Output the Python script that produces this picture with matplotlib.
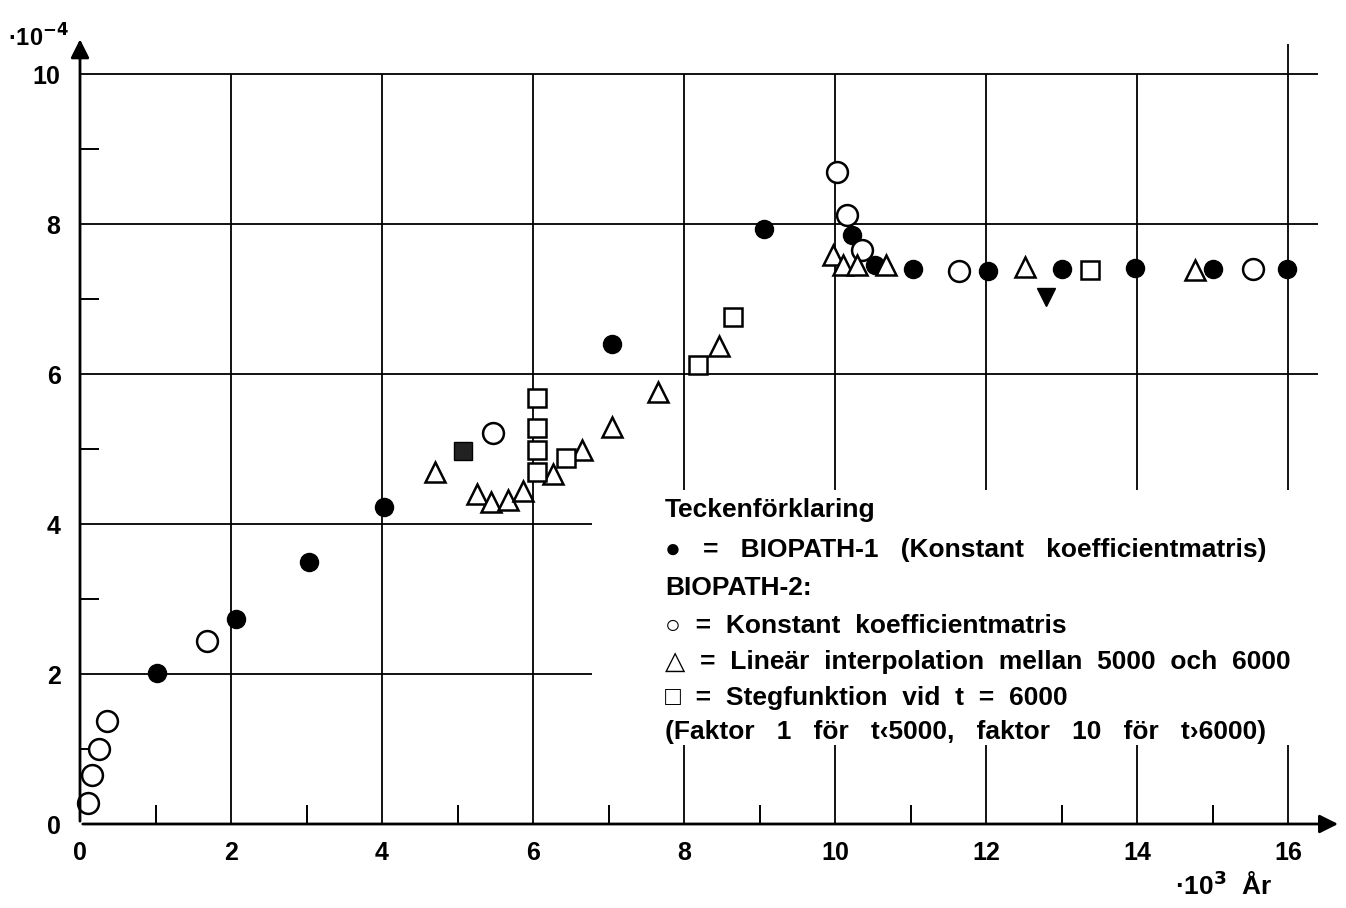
import matplotlib
matplotlib.use("Agg")
import matplotlib.pyplot as plt

# ---- data (x in 10^3 years, y in 10^-4) ----
b1_x = [1.02, 2.07, 3.03, 4.03, 7.05, 9.06, 10.23, 10.53, 11.03, 12.03, 13.01, 13.97, 15.01, 15.99]
b1_y = [2.01, 2.73, 3.49, 4.23, 6.40, 7.93, 7.85, 7.45, 7.40, 7.37, 7.40, 7.41, 7.40, 7.40]

konst_x = [0.11, 0.16, 0.25, 0.36, 1.68, 5.47, 10.03, 10.16, 10.36, 11.64, 15.54]
konst_y = [0.28, 0.65, 1.00, 1.37, 2.44, 5.21, 8.69, 8.12, 7.65, 7.37, 7.40]

lin_x = [4.70, 5.26, 5.44, 5.67, 5.87, 6.26, 6.65, 7.05, 7.66, 8.46, 9.97, 10.11, 10.29, 10.68, 12.52, 14.77]
lin_y = [4.69, 4.40, 4.29, 4.32, 4.44, 4.67, 4.99, 5.29, 5.76, 6.37, 7.59, 7.45, 7.45, 7.45, 7.43, 7.39]

steg_x = [6.05, 6.05, 6.05, 6.05, 6.44, 8.19, 8.65, 13.38]
steg_y = [5.68, 5.28, 4.99, 4.69, 4.88, 6.12, 6.76, 7.39]

fsq_x = [5.07]
fsq_y = [4.97]
dtri_x = [12.79]
dtri_y = [7.03]

xticks = [0, 2, 4, 6, 8, 10, 12, 14, 16]
yticks = [0, 2, 4, 6, 8, 10]

legend_lines = [
    "Teckenförklaring",
    "●   =   BIOPATH-1   (Konstant   koefficientmatris)",
    "BIOPATH-2:",
    "○  =  Konstant  koefficientmatris",
    "△  =  Lineär  interpolation  mellan  5000  och  6000",
    "□  =  Stegfunktion  vid  t  =  6000",
    "(Faktor   1   för   t‹5000,   faktor   10   för   t›6000)",
]

W, H = 1346, 908
fig = plt.figure(figsize=(W / 100, H / 100), dpi=100)
x0px, y0px = 80, 824
ppx, ppy = 75.5, 75.0
xmax, ymax = 16.7, 10.5
ax = fig.add_axes([x0px / W, (H - y0px) / H, xmax * ppx / W, ymax * ppy / H])
ax.set_xlim(0, xmax)
ax.set_ylim(0, ymax)
for s in ax.spines.values():
    s.set_visible(False)

lw = 1.3
# horizontal grid lines
ax.hlines([6, 8, 10], 0, 16.4, color="black", lw=lw)
ax.hlines([2, 4], 0, 6.78, color="black", lw=lw)
# vertical grid lines
ax.vlines([2, 4, 6], 0, 10, color="black", lw=lw)
for xv in [8, 10, 12, 14, 16]:
    ax.vlines(xv, 4.45, 10.4 if xv == 16 else 10, color="black", lw=lw)
    ax.vlines(xv, 0, 1.05, color="black", lw=lw)

# axes with arrows
ax.annotate("", xy=(xmax, 0), xytext=(0, 0),
            arrowprops=dict(arrowstyle="-|>", color="black", lw=2.0, mutation_scale=28),
            annotation_clip=False)
ax.annotate("", xy=(0, ymax), xytext=(0, 0),
            arrowprops=dict(arrowstyle="-|>", color="black", lw=2.0, mutation_scale=28),
            annotation_clip=False)

tick_font = dict(family=["Liberation Sans", "DejaVu Sans"], size=18, weight="bold")
ax.set_xticks(xticks)
ax.set_xticklabels([str(v) for v in xticks], **tick_font)
ax.set_yticks(yticks)
ax.set_yticklabels([str(v) for v in yticks], **tick_font)
ax.tick_params(axis="both", which="major", length=0)
ax.tick_params(axis="x", which="major", pad=12)
ax.tick_params(axis="y", which="major", pad=14)
ax.set_xticks(list(range(1, 16, 2)), minor=True)
ax.set_yticks([1, 3, 5, 7, 9], minor=True)
ax.tick_params(axis="both", which="minor", direction="in", length=14, width=1.4, color="black")

# units
fig.text(8 / W, 1 - 38 / H, "·10$^{\\mathbf{-4}}$", fontsize=17, fontweight="bold",
         family=["Liberation Sans", "DejaVu Sans"], va="center", ha="left")
fig.text(1175 / W, 1 - 886 / H, "·10$^{\\mathbf{3}}$  År", fontsize=19, fontweight="bold",
         family=["Liberation Sans", "DejaVu Sans"], va="center", ha="left")

ms = 14
ax.plot(b1_x, b1_y, "o", ms=ms - 1, mfc="black", mec="black", clip_on=False)
ax.plot(konst_x, konst_y, "o", ms=ms + 1, mfc="white", mec="black", mew=1.8, clip_on=False)
ax.plot(lin_x, lin_y, "^", ms=ms + 1, mfc="white", mec="black", mew=1.8, clip_on=False)
ax.plot(steg_x, steg_y, "s", ms=ms - 1, mfc="white", mec="black", mew=1.8, clip_on=False)
ax.plot(fsq_x, fsq_y, "s", ms=ms - 1, mfc="#222222", mec="black", clip_on=False)
ax.plot(dtri_x, dtri_y, "v", ms=ms - 1, mfc="black", mec="black", clip_on=False)

leg_font = ["Liberation Sans", "DejaVu Sans"]
ys = [510, 550, 588, 626, 662, 698, 732]
for txt, yp in zip(legend_lines, ys):
    fig.text(665 / W, 1 - yp / H, txt, fontsize=19, fontweight="bold",
             family=leg_font, va="center", ha="left")

fig.savefig("out.png", dpi=100)
